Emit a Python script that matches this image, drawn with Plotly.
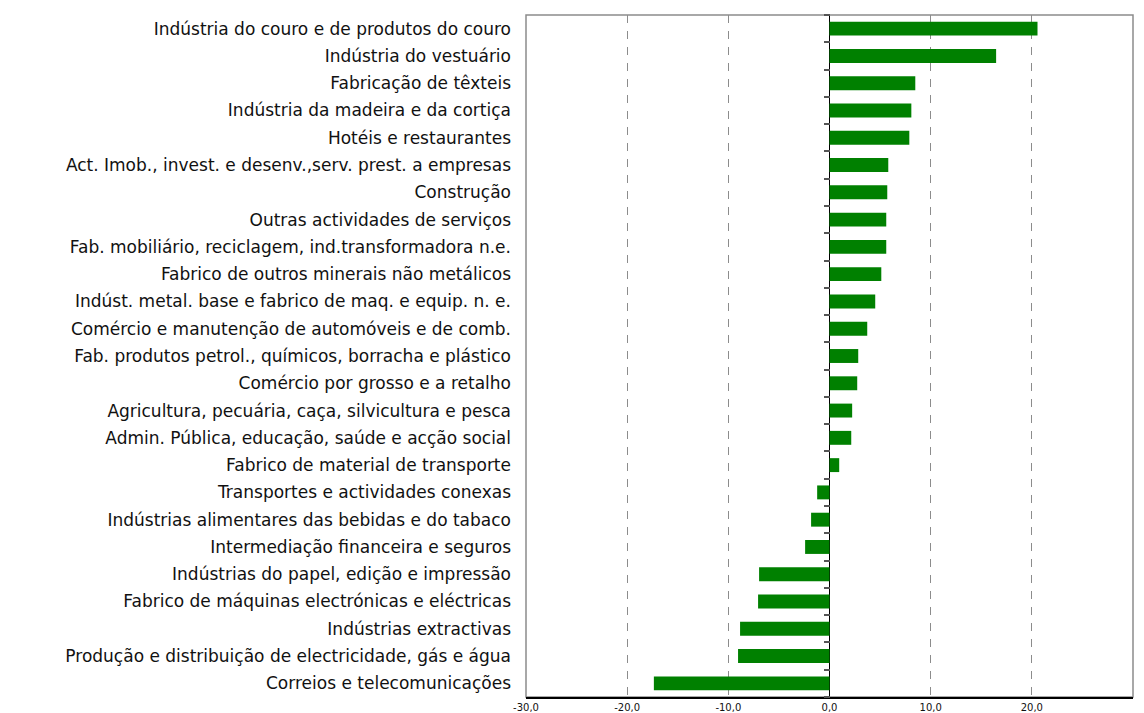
import plotly.graph_objects as go

categories = [
    "Indústria do couro e de produtos do couro",
    "Indústria do vestuário",
    "Fabricação de têxteis",
    "Indústria da madeira e da cortiça",
    "Hotéis e restaurantes",
    "Act. Imob., invest. e desenv.,serv. prest. a empresas",
    "Construção",
    "Outras actividades de serviços",
    "Fab. mobiliário, reciclagem, ind.transformadora n.e.",
    "Fabrico de outros minerais não metálicos",
    "Indúst. metal. base e fabrico de maq. e equip. n. e.",
    "Comércio e manutenção de automóveis e de comb.",
    "Fab. produtos petrol., químicos, borracha e plástico",
    "Comércio por grosso e a retalho",
    "Agricultura, pecuária, caça, silvicultura e pesca",
    "Admin. Pública, educação, saúde e acção social",
    "Fabrico de material de transporte",
    "Transportes e actividades conexas",
    "Indústrias alimentares das bebidas e do tabaco",
    "Intermediação financeira e seguros",
    "Indústrias do papel, edição e impressão",
    "Fabrico de máquinas electrónicas e eléctricas",
    "Indústrias extractivas",
    "Produção e distribuição de electricidade, gás e água",
    "Correios e telecomunicações",
]

values = [20.56, 16.47, 8.48, 8.09, 7.89, 5.81, 5.71, 5.61, 5.61, 5.12, 4.52,
          3.73, 2.84, 2.74, 2.24, 2.15, 0.96, -1.22, -1.82, -2.41, -6.96,
          -7.06, -8.84, -9.04, -17.36]

x_tickvals = [-30, -20, -10, 0, 10, 20, 30]
x_ticktext = ["-30,0", "-20,0", "-10,0", "0,0", "10,0", "20,0", "30,0"]

n = len(categories)
idx = list(range(n))
boundaries = [i - 0.5 for i in range(n + 1)]

fig = go.Figure()
fig.add_trace(go.Bar(
    y=idx, x=values, orientation="h",
    marker=dict(color="#008000", line=dict(width=0)),
    hoverinfo="x+y", showlegend=False,
))
fig.add_trace(go.Scatter(
    x=[0], y=[0], yaxis="y2", mode="markers",
    marker=dict(opacity=0), hoverinfo="skip", showlegend=False,
))

fig.update_layout(
    width=1144, height=713,
    margin=dict(l=526, r=11, t=15, b=16, autoexpand=False),
    paper_bgcolor="white", plot_bgcolor="white",
    bargap=0.49,
    font=dict(family="DejaVu Sans, Liberation Sans, Arial, sans-serif", color="#111"),
    xaxis=dict(
        range=[-30, 30], tickvals=x_tickvals, ticktext=x_ticktext,
        tickfont=dict(size=10, color="#111"),
        showgrid=True, gridcolor="#8c8c8c", gridwidth=1, griddash="8px,8px",
        zeroline=True, zerolinecolor="#000", zerolinewidth=1.2,
        showline=True, linecolor="#000", linewidth=1.5,
        ticks="", ticklen=0, fixedrange=True, automargin=False,
    ),
    yaxis=dict(
        range=[n - 0.5, -0.5], tickvals=idx, ticktext=categories,
        tickfont=dict(size=17, color="#111"),
        showgrid=False, zeroline=False, showline=False,
        ticks="", ticklabelstandoff=14, automargin=False,
    ),
    yaxis2=dict(
        overlaying="y", anchor="free", position=0.5, side="left",
        range=[n - 0.5, -0.5], tickvals=boundaries,
        showticklabels=False, ticks="outside", ticklen=6, tickwidth=1.5,
        tickcolor="#555", showgrid=False, zeroline=False, showline=False,
    ),
    shapes=[dict(type="rect", xref="paper", yref="paper", x0=0, x1=1, y0=0, y1=1,
                 line=dict(color="#8c8c8c", width=1.5), layer="below")],
)

fig.write_html(
    "out.html",
    config={"displayModeBar": False},
    post_script="document.body.style.margin='0';document.body.style.overflow='hidden';",
)
